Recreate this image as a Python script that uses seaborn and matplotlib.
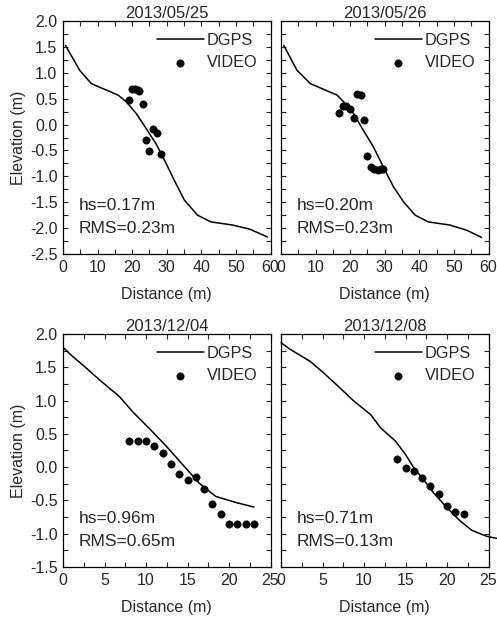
import seaborn as sns
import matplotlib.pyplot as plt
from matplotlib.ticker import MultipleLocator
import pandas as pd

# profili DGPS e punti VIDEO
titles = ["2013/05/25", "2013/05/26", "2013/12/04", "2013/12/08"]
hs_labels = ["hs=0.17m", "hs=0.20m", "hs=0.96m", "hs=0.71m"]
rms_labels = ["RMS=0.23m", "RMS=0.23m", "RMS=0.65m", "RMS=0.13m"]

dgps_x_0525 = [0.7, 4.8, 8.2, 15.9, 18.3, 21.2, 23.1, 26.9, 29.8, 32.2, 35.1, 38.9, 42.8, 49.0, 54.0, 59.1]
dgps_y_0525 = [1.53, 1.05, 0.79, 0.57, 0.44, 0.21, 0.02, -0.37, -0.75, -1.08, -1.46, -1.75, -1.88, -1.94, -2.02, -2.17]
video_x_0525 = [19.0, 20.0, 20.9, 21.6, 22.1, 23.1, 24.0, 25.0, 26.0, 27.2, 28.2]
video_y_0525 = [0.47, 0.69, 0.69, 0.67, 0.65, 0.39, -0.30, -0.51, -0.08, -0.17, -0.56]

dgps_x_0526 = [0.8, 4.6, 8.5, 16.2, 18.1, 21.0, 23.8, 26.7, 29.6, 32.5, 35.4, 38.8, 42.6, 48.8, 53.7, 58.0]
dgps_y_0526 = [1.53, 1.05, 0.79, 0.57, 0.44, 0.21, -0.11, -0.43, -0.82, -1.20, -1.49, -1.75, -1.88, -1.94, -2.04, -2.18]
video_x_0526 = [16.9, 17.9, 18.8, 20.0, 21.0, 21.9, 23.1, 24.1, 25.0, 26.0, 27.0, 28.0, 28.9, 29.6]
video_y_0526 = [0.23, 0.36, 0.36, 0.31, 0.12, 0.59, 0.57, 0.08, -0.60, -0.81, -0.85, -0.88, -0.86, -0.85]

dgps_x_1204 = [0.0, 1.0, 2.6, 4.4, 6.8, 8.4, 10.4, 12.4, 14.4, 16.4, 18.4, 20.8, 23.0]
dgps_y_1204 = [1.80, 1.68, 1.51, 1.31, 1.06, 0.83, 0.58, 0.32, 0.04, -0.24, -0.44, -0.53, -0.60]
video_x_1204 = [8, 9, 10, 11, 12, 13, 14, 15, 16, 17, 18, 19, 20, 21, 22, 23]
video_y_1204 = [0.39, 0.39, 0.39, 0.31, 0.21, 0.05, -0.10, -0.19, -0.15, -0.33, -0.56, -0.70, -0.86, -0.86, -0.86, -0.86]

dgps_x_1208 = [0.0, 1.1, 3.5, 5.1, 7.1, 8.8, 10.8, 12.0, 13.8, 15.0, 16.0, 17.0, 18.4, 20.0, 21.6, 23.0, 24.8, 26.0]
dgps_y_1208 = [1.87, 1.77, 1.59, 1.42, 1.19, 0.99, 0.79, 0.59, 0.39, 0.19, -0.01, -0.16, -0.39, -0.61, -0.81, -0.95, -1.04, -1.07]
video_x_1208 = [14, 15, 16, 17, 18, 19, 20, 21, 22]
video_y_1208 = [0.12, -0.01, -0.06, -0.17, -0.29, -0.41, -0.59, -0.68, -0.70]

dgps_x = [dgps_x_0525, dgps_x_0526, dgps_x_1204, dgps_x_1208]
dgps_y = [dgps_y_0525, dgps_y_0526, dgps_y_1204, dgps_y_1208]
video_x = [video_x_0525, video_x_0526, video_x_1204, video_x_1208]
video_y = [video_y_0525, video_y_0526, video_y_1204, video_y_1208]

sns.set_style("ticks")
plt.rcParams['font.family'] = ['Liberation Sans', 'DejaVu Sans']
plt.rcParams['font.size'] = 11.5

fig = plt.figure(figsize=(4.97, 6.2), dpi=100)
lefts = [0.1268, 0.5654, 0.1268, 0.5654]
bottoms = [0.5903, 0.5903, 0.0855, 0.0855]

for i in range(4):
    ax = fig.add_axes([lefts[i], bottoms[i], 0.4175, 0.3758])
    dgps = pd.DataFrame({"x": dgps_x[i], "y": dgps_y[i]})
    video = pd.DataFrame({"x": video_x[i], "y": video_y[i]})
    sns.lineplot(data=dgps, x="x", y="y", ax=ax, color="black", lw=1.1,
                 estimator=None, label="DGPS")
    sns.scatterplot(data=video, x="x", y="y", ax=ax, color="black", s=28,
                    edgecolor="black", label="VIDEO")
    if i == 3:
        ax.lines[0].set_clip_on(False)

    if i < 2:
        ax.set_xlim(0, 60)
        ax.set_ylim(-2.5, 2.0)
        ax.xaxis.set_major_locator(MultipleLocator(10))
        ax.xaxis.set_minor_locator(MultipleLocator(5))
    else:
        ax.set_xlim(0, 25)
        ax.set_ylim(-1.5, 2.0)
        ax.xaxis.set_major_locator(MultipleLocator(5))
        ax.xaxis.set_minor_locator(MultipleLocator(2.5))
    ax.yaxis.set_major_locator(MultipleLocator(0.5))
    ax.yaxis.set_minor_locator(MultipleLocator(0.25))
    ax.yaxis.set_major_formatter(plt.FormatStrFormatter('%.1f'))
    ax.tick_params(which="both", direction="in", top=True, right=True,
                   length=3.5, width=0.8, labelsize=11.5, pad=4)
    for sp in ax.spines.values():
        sp.set_linewidth(0.9)
        sp.set_color("black")

    ax.set_xlabel("Distance (m)", fontsize=11.5, labelpad=9)
    if i % 2 == 0:
        ax.set_ylabel("Elevation (m)", fontsize=11.5, labelpad=3)
    else:
        ax.set_ylabel("")
        ax.tick_params(labelleft=False)
    ax.set_title(titles[i], fontsize=12, pad=1)

    ax.text(0.075, 0.21, hs_labels[i], transform=ax.transAxes, va="center", fontsize=12.5)
    ax.text(0.075, 0.11, rms_labels[i], transform=ax.transAxes, va="center", fontsize=12.5)

    ax.legend(loc="upper right", bbox_to_anchor=(0.985, 0.99), frameon=False,
              fontsize=11.7, handlelength=2.9, handletextpad=0.2,
              labelspacing=0.45, borderaxespad=0.2)

fig.savefig("out.png", dpi=100)
